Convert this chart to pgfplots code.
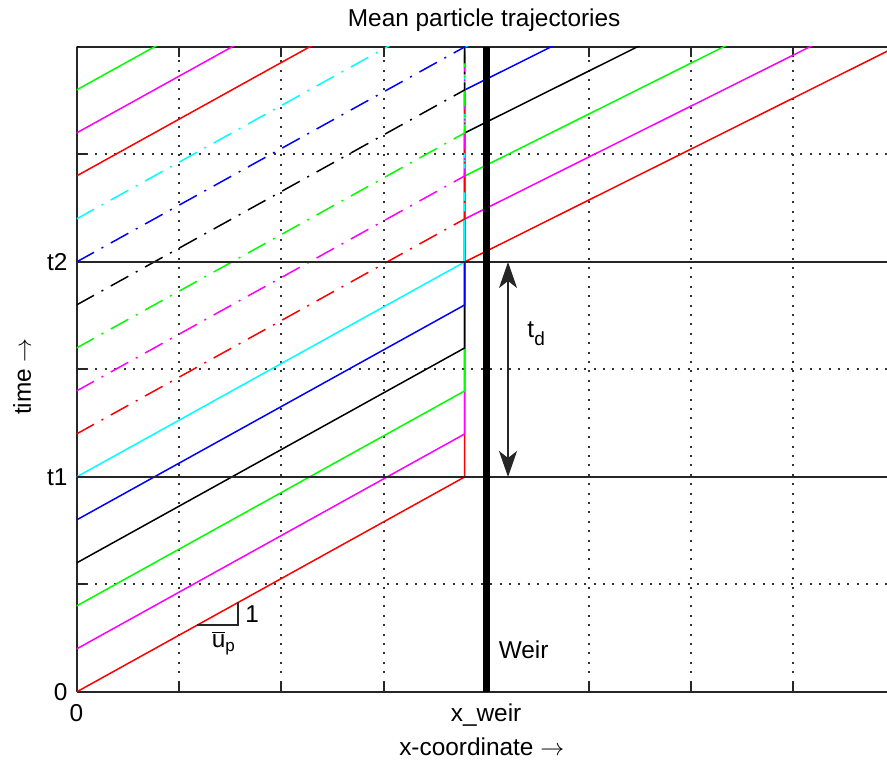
\documentclass[border=0pt]{standalone}
\usepackage{pgfplots}
\pgfplotsset{compat=1.18}
\usepackage{fontspec}
\setmainfont{Liberation Sans}
\usetikzlibrary{arrows.meta}
\definecolor{mred}{rgb}{1,0,0}
\definecolor{mmagenta}{rgb}{1,0,1}
\definecolor{mgreen}{rgb}{0,1,0}
\definecolor{mblue}{rgb}{0,0,1}
\definecolor{mcyan}{rgb}{0,1,1}
\definecolor{mblack}{rgb}{0,0,0}
\tikzset{dd/.style={dash pattern=on 10bp off 4.3bp on 1bp off 4.3bp}}
\begin{document}
\begin{tikzpicture}[font=\fontsize{12.2bp}{14bp}\selectfont]
\begin{axis}[
  name=ax,
  scale only axis,
  width=405.25bp, height=322.5bp,
  xmin=0, xmax=7.915, ymin=0, ymax=6,
  axis y line*=left,
  y axis line style={-},
  axis line style={line width=1bp, black!85},
  xtick={0,1,2,3,4,5,6,7},
  xticklabels={0,,,,x\_weir,,,},
  ytick={0,1,2,3,4,5,6},
  yticklabels={0,,t1,,t2,,},
  tick align=inside,
  major tick length=5bp,
  every tick/.style={line width=1bp, black!85},
  xticklabel style={anchor=base, yshift=-15bp},
  yticklabel style={xshift=-1bp},
  grid=major,
  major grid style={line width=1bp, black!80, dash pattern=on 1bp off 3.7bp},
  every axis title shift=0pt,
  title={Mean particle trajectories},
  title style={at={(axis description cs:0.5,1)}, anchor=base, xshift=1.2bp, yshift=10bp},
  xlabel={x-coordinate $\rightarrow$},
  xlabel style={at={(axis description cs:0.5,0)}, anchor=base, yshift=-32bp},
  ylabel={time $\rightarrow$},
  ylabel style={at={(axis description cs:-0.0672,0.489)}, anchor=center},
  every axis plot/.append style={line width=0.75bp},
]
% first batch (solid), stopped at the weir and released from t2
\addplot[mred]     coordinates {(0,0.0) (3.79,2.0) (3.79,4.0) (8,6.0)};
\addplot[mmagenta] coordinates {(0,0.4) (3.79,2.4) (3.79,4.4) (8,6.4)};
\addplot[mgreen]   coordinates {(0,0.8) (3.79,2.8) (3.79,4.8) (8,6.8)};
\addplot[mblack]   coordinates {(0,1.2) (3.79,3.2) (3.79,5.2) (8,7.2)};
\addplot[mblue]    coordinates {(0,1.6) (3.79,3.6) (3.79,5.6) (8,7.6)};
\addplot[mcyan]    coordinates {(0,2.0) (3.79,4.0) (3.79,6.0) (8,8.0)};
% second batch (dash-dot)
\addplot[mred, dd]     coordinates {(0,2.4) (3.79,4.4) (3.79,6.4)};
\addplot[mmagenta, dd] coordinates {(0,2.8) (3.79,4.8) (3.79,6.8)};
\addplot[mgreen, dd]   coordinates {(0,3.2) (3.79,5.2) (3.79,7.2)};
\addplot[mblack, dd]   coordinates {(0,3.6) (3.79,5.6) (3.79,7.6)};
\addplot[mblue, dd]    coordinates {(0,4.0) (3.79,6.0) (3.79,8.0)};
\addplot[mcyan, dd]    coordinates {(0,4.4) (3.79,6.4)};
% third batch (solid)
\addplot[mred]     coordinates {(0,4.8) (3.79,6.8)};
\addplot[mmagenta] coordinates {(0,5.2) (3.79,7.2)};
\addplot[mgreen]   coordinates {(0,5.6) (3.79,7.6)};
\addplot[mblack]   coordinates {(0,6.0) (3.79,8.0)};
% t1, t2 lines
\addplot[black!85, line width=1bp] coordinates {(0,2) (8,2)};
\addplot[black!85, line width=1bp] coordinates {(0,4) (8,4)};
% weir
\addplot[mblack, line width=3.5bp] coordinates {(4,0) (4,6)};
% annotations
\draw[black!85, line width=0.9bp, {Stealth[length=13bp,width=9bp,inset=3.5bp]}-{Stealth[length=13bp,width=9bp,inset=3.5bp]}]
  (axis cs:4.214,2) -- (axis cs:4.214,4);
\node[anchor=base west, inner sep=0] at (axis cs:4.4,3.30)
  {t\raisebox{-4bp}{\fontsize{9.5bp}{10bp}\selectfont d}};
\node[anchor=base west, inner sep=0] at (axis cs:4.12,0.307) {Weir};
\draw[black!85, line width=0.9bp] (axis cs:1.175,0.62) -- (axis cs:1.58,0.62) -- (axis cs:1.58,0.834);
\node[anchor=base west, inner sep=0] at (axis cs:1.645,0.642) {1};
\node[anchor=base west, inner sep=0] at (axis cs:1.318,0.41)
  {$\overline{\mbox{u}}$\raisebox{-2bp}{\fontsize{8.5bp}{9bp}\selectfont p}};
\end{axis}
\pgfresetboundingbox
\path ([xshift=-38.25bp,yshift=-36bp]ax.south west) rectangle ([yshift=23.5bp]ax.north east);
\end{tikzpicture}
\end{document}
